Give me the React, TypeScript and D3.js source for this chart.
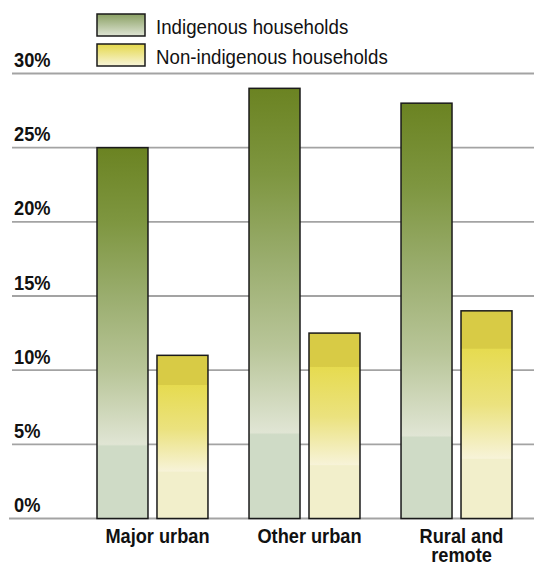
import React from "react";
import * as d3 from "d3";

const categories = ["Major urban", "Other urban", "Rural and remote"];
const categoryLines = [["Major urban"], ["Other urban"], ["Rural and", "remote"]];
const seriesNames = ["Indigenous households", "Non-indigenous households"];
const indigenous = [25, 29, 28];
const nonIndigenous = [11, 12.5, 14];
const yTicks = [0, 5, 10, 15, 20, 25, 30];

const W = 534;
const H = 562;
const FONT = "'Liberation Sans', Arial, Helvetica, sans-serif";
const SY = 1.12;

export default function App() {
  const y = d3.scaleLinear().domain([0, 30]).range([518.5, 73.5]);
  const x0 = d3.scaleBand<string>().domain(categories).range([97, 512]).paddingInner(0.27).paddingOuter(0);
  const x1 = d3.scaleBand<string>().domain(["ind", "non"]).range([0, x0.bandwidth()]).paddingInner(0.15);

  const series = [
    { key: "ind", values: indigenous, fill: "url(#gInd)" },
    { key: "non", values: nonIndigenous, fill: "url(#gNon)" },
  ];

  const txt = (x: number, yy: number, s: string, opts: any = {}) => (
    <text
      transform={`translate(${x},${yy}) scale(1,${SY})`}
      fontFamily={FONT}
      fill="#111"
      {...opts}
    >
      {s}
    </text>
  );

  return (
    <svg width={W} height={H} style={{ position: "absolute", left: 0, top: 0, display: "block", background: "#fff" }}>
      <defs>
        <linearGradient id="gInd" x1="0" y1="0" x2="0" y2="1">
          <stop offset="0" stopColor="#6b8322" />
          <stop offset="0.2" stopColor="#7e9640" />
          <stop offset="0.4" stopColor="#9aad6e" />
          <stop offset="0.6" stopColor="#b8c598" />
          <stop offset="0.8" stopColor="#e0e5d4" />
          <stop offset="0.805" stopColor="#cfdbc6" />
          <stop offset="1" stopColor="#cfdbc6" />
        </linearGradient>
        <linearGradient id="gNon" x1="0" y1="0" x2="0" y2="1">
          <stop offset="0" stopColor="#d8cb45" />
          <stop offset="0.18" stopColor="#d8cb45" />
          <stop offset="0.185" stopColor="#e6db50" />
          <stop offset="0.45" stopColor="#ebe27e" />
          <stop offset="0.71" stopColor="#f7f3d8" />
          <stop offset="0.715" stopColor="#f2efcb" />
          <stop offset="1" stopColor="#f2efcb" />
        </linearGradient>
        <linearGradient id="lInd" x1="0" y1="0" x2="0" y2="1">
          <stop offset="0" stopColor="#8aa063" />
          <stop offset="1" stopColor="#dfe5d5" />
        </linearGradient>
        <linearGradient id="lNon" x1="0" y1="0" x2="0" y2="1">
          <stop offset="0" stopColor="#e4d84a" />
          <stop offset="1" stopColor="#f8f5da" />
        </linearGradient>
      </defs>

      {/* gridlines */}
      {yTicks.map((t) => (
        <line key={t} x1={t === 0 ? 9 : 12} x2={W} y1={y(t)} y2={y(t)} stroke="#a3a3a3" strokeWidth={1.8} />
      ))}
      {yTicks.map((t) => (
        <g key={"l" + t}>{txt(14, y(t) - 6.5, `${t}%`, { fontSize: 18.3, fontWeight: "bold" })}</g>
      ))}

      {/* bars */}
      {categories.map((c, i) => (
        <g key={c} transform={`translate(${x0(c)},0)`}>
          {series.map((s) => (
            <rect
              key={s.key}
              x={x1(s.key)}
              y={y(s.values[i])}
              width={x1.bandwidth()}
              height={y(0) - y(s.values[i])}
              fill={s.fill}
              stroke="#1a1a1a"
              strokeWidth={1.5}
            />
          ))}
        </g>
      ))}

      {/* category labels */}
      {categories.map((c, i) => (
        <g key={"c" + c}>
          {categoryLines[i].map((ln, j) =>
            <g key={j}>
              {txt((x0(c) as number) + x0.bandwidth() / 2 + 5, 542.5 + j * 19, ln, {
                fontSize: 18.2,
                fontWeight: "bold",
                textAnchor: "middle",
              })}
            </g>
          )}
        </g>
      ))}

      {/* legend */}
      {seriesNames.map((n, i) => (
        <g key={n}>
          <rect x={97} y={14 + i * 30} width={48} height={22} fill={i === 0 ? "url(#lInd)" : "url(#lNon)"} stroke="#1a1a1a" strokeWidth={1.5} />
          {txt(156, 34 + i * 30, n, { fontSize: 18.7 })}
        </g>
      ))}
    </svg>
  );
}
